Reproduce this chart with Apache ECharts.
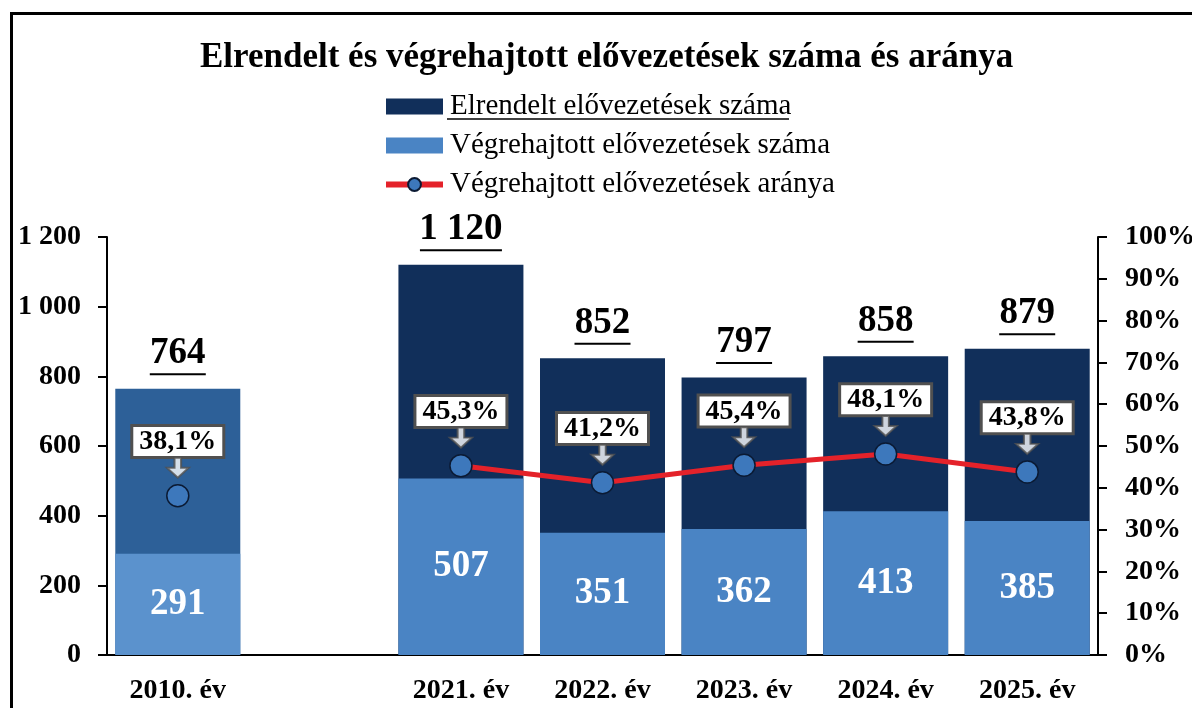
<!DOCTYPE html>
<html>
<head>
<meta charset="utf-8">
<script src="https://cdn.jsdelivr.net/npm/echarts@6/dist/echarts.min.js"></script>
<style>
  html, body { margin: 0; padding: 0; background: #fff; overflow: hidden; }
  #frame { position: absolute; left: 10px; top: 12px; width: 1300px; height: 800px; border: 3px solid #000; }
  #chart { position: absolute; left: 0; top: 0; width: 1192px; height: 708px; }
</style>
</head>
<body>
<div id="frame"></div>
<div id="chart"></div>
<script>
// chart data
const categories = ["2010. év", "", "2021. év", "2022. év", "2023. év", "2024. év", "2025. év"];
const ordered = [764, "-", 1120, 852, 797, 858, 879];
const executed = [291, "-", 507, 351, 362, 413, 385];
const ratio = [38.1, "-", 45.3, 41.2, 45.4, 48.1, 43.8];
const leftTicks = [0, 200, 400, 600, 800, 1000, 1200];

const FONT = "'Liberation Serif', 'Times New Roman', serif";
const fmtNum = (v) => String(v).replace(/\B(?=(\d{3})+(?!\d))/g, " ");
const fmtPct = (v) => v.toFixed(1).replace(".", ",") + "%";

const chart = echarts.init(document.getElementById("chart"));

// 2010 bars use a lighter shade
const orderedData = ordered.map((v, i) =>
  i === 0 ? { value: v, itemStyle: { color: "#2D6098" } } : v
);
const executedData = executed.map((v, i) =>
  i === 0 ? { value: v, itemStyle: { color: "#5B92CD" } } : v
);

const option = {
  animation: false,
  title: {
    text: "Elrendelt és végrehajtott elővezetések száma és aránya",
    left: 195,
    top: 35,
    padding: 5,
    textStyle: { fontFamily: FONT, fontSize: 35, fontWeight: "bold", color: "#000" },
  },
  legend: {
    orient: "vertical",
    left: 383,
    top: 92,
    padding: 0,
    itemWidth: 57,
    itemHeight: 16,
    itemGap: 10,
    data: [
      { name: "Elrendelt elővezetések száma", icon: "rect" },
      { name: "Végrehajtott elővezetések száma", icon: "rect" },
      { name: "Végrehajtott elővezetések aránya", lineStyle: { width: 6 } },
    ],
    textStyle: { fontFamily: FONT, fontSize: 29, color: "#000", padding: [0, 0, 0, 2] },
  },
  graphic: [
    {
      // underline of the first legend item
      type: "line",
      shape: { x1: 447, y1: 119, x2: 789, y2: 119 },
      style: { stroke: "#000", lineWidth: 1.5 },
    },
  ],
  grid: { left: 107, right: 94, top: 237, bottom: 53, outerBoundsMode: "none" },
  xAxis: {
    type: "category",
    data: categories,
    axisLine: { lineStyle: { color: "#000", width: 2 } },
    axisTick: { length: 10, lineStyle: { color: "#000", width: 2 } },
    axisLabel: { fontFamily: FONT, fontSize: 28, fontWeight: "bold", color: "#000", margin: 22 },
  },
  yAxis: [
    {
      type: "value",
      min: 0,
      max: leftTicks[leftTicks.length - 1],
      interval: 200,
      splitLine: { show: false },
      axisLine: { show: true, lineStyle: { color: "#000", width: 2 } },
      axisTick: { show: true, length: 9, lineStyle: { color: "#000", width: 2 } },
      axisLabel: {
        fontFamily: FONT, fontSize: 28, fontWeight: "bold", color: "#000", margin: 26,
        formatter: (v) => fmtNum(v),
      },
    },
    {
      type: "value",
      min: 0,
      max: 100,
      interval: 10,
      position: "right",
      splitLine: { show: false },
      axisLine: { show: true, lineStyle: { color: "#000", width: 2 } },
      axisTick: { show: true, length: 9, lineStyle: { color: "#000", width: 2 } },
      axisLabel: {
        fontFamily: FONT, fontSize: 28, fontWeight: "bold", color: "#000", margin: 27,
        formatter: (v) => v + "%",
      },
    },
  ],
  series: [
    {
      name: "Elrendelt elővezetések száma",
      type: "bar",
      data: orderedData,
      barWidth: 125,
      barGap: "-100%",
      itemStyle: { color: "#112F5A" },
      label: {
        show: true,
        position: "top",
        distance: 13,
        formatter: (p) => {
          const s = fmtNum(p.value);
          return "{v|" + s + "}\n{u" + s.length + "| }";
        },
        rich: {
          v: { fontFamily: FONT, fontSize: 37, fontWeight: "bold", color: "#000", lineHeight: 38 },
          u3: { width: 56, height: 2, lineHeight: 3, fontSize: 1, backgroundColor: "#000" },
          u5: { width: 82, height: 2, lineHeight: 3, fontSize: 1, backgroundColor: "#000" },
        },
      },
    },
    {
      name: "Végrehajtott elővezetések száma",
      type: "bar",
      data: executedData,
      barWidth: 125,
      itemStyle: { color: "#4A84C4" },
      label: {
        show: true,
        position: "inside",
        fontFamily: FONT,
        fontSize: 37,
        fontWeight: "bold",
        color: "#fff",
      },
    },
    {
      name: "Végrehajtott elővezetések aránya",
      type: "line",
      yAxisIndex: 1,
      data: ratio,
      z: 5,
      symbol: "circle",
      symbolSize: 22,
      lineStyle: { color: "#E4222A", width: 5 },
      itemStyle: { color: "#3D78BC", borderColor: "#0B1A33", borderWidth: 1.5 },
      label: {
        show: true,
        position: "top",
        distance: 28,
        formatter: (p) => fmtPct(p.value),
        fontFamily: FONT,
        fontSize: 28,
        fontWeight: "bold",
        lineHeight: 28,
        color: "#000",
        backgroundColor: "#fff",
        borderColor: "#505050",
        borderWidth: 3,
        padding: [1, 6, 0, 6],
      },
    },
    {
      // arrow pointing from the label to the marker
      name: "arrow",
      type: "scatter",
      yAxisIndex: 1,
      data: ratio,
      z: 6,
      silent: true,
      symbol: "path://M7,0 L13,0 L13,10 L20,10 L10,20 L0,10 L7,10 Z",
      symbolSize: [22, 20],
      symbolOffset: [0, -28],
      itemStyle: { color: "#fff", borderColor: "#505050", borderWidth: 2 },
    },
  ],
};

chart.setOption(option);
</script>
</body>
</html>
